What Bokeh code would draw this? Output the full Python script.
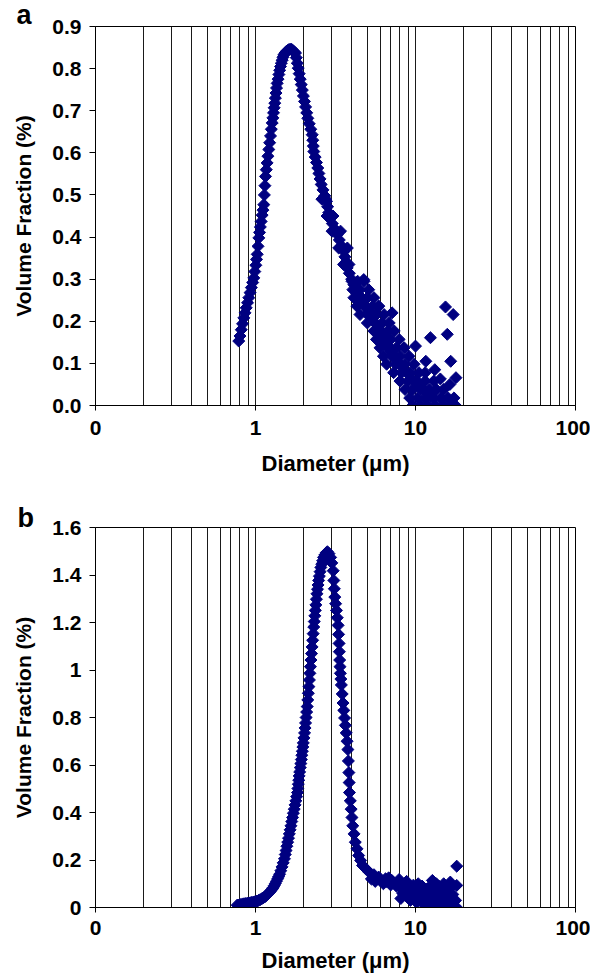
from bokeh.plotting import figure
from bokeh.models import FixedTicker, NumeralTickFormatter, Range1d, Title
from bokeh.layouts import column
from bokeh.embed import file_html
from bokeh.resources import INLINE

FONT = "Liberation Sans"
NAVY = "#000080"

# ---------------- data: panel a ----------------
a_curve_x = [0.786, 0.80, 0.815, 0.83, 0.845, 0.86, 0.875, 0.892, 0.908, 0.925, 0.942, 0.96, 0.976,
             0.99, 1.005, 1.015, 1.025, 1.037, 1.049, 1.06, 1.072, 1.085, 1.10, 1.113, 1.127, 1.136,
             1.145, 1.155, 1.168, 1.182, 1.196, 1.211, 1.226, 1.241, 1.256, 1.272, 1.284, 1.296, 1.308,
             1.320, 1.331, 1.343, 1.354, 1.366, 1.383, 1.40, 1.416, 1.433, 1.45, 1.468, 1.485, 1.503,
             1.53, 1.56, 1.588, 1.615, 1.645, 1.679,
             1.71, 1.745, 1.778, 1.80, 1.825, 1.849, 1.875, 1.903, 1.931, 1.962, 1.993, 2.024, 2.056,
             2.09, 2.123, 2.168, 2.215, 2.262, 2.28, 2.297, 2.314, 2.36, 2.405, 2.451, 2.49, 2.532,
             2.574, 2.64, 2.71, 2.779, 2.824, 2.868, 2.914, 3.02, 3.13, 3.24, 3.34, 3.45, 3.564, 3.62,
             3.68, 3.742, 3.86, 3.99, 4.116, 4.29, 4.46, 4.644, 4.87, 5.11, 5.363, 5.63, 5.90, 6.193,
             6.44, 6.70, 6.98, 7.38, 7.80, 8.26, 8.85, 9.5, 10.25, 11.0, 11.7, 12.41]
a_curve_y = [0.153, 0.165, 0.180, 0.194, 0.208, 0.220, 0.232, 0.244, 0.256, 0.268, 0.280, 0.292, 0.303,
             0.318, 0.333, 0.347, 0.359, 0.378, 0.398, 0.411, 0.424, 0.437, 0.452, 0.464, 0.477, 0.500,
             0.522, 0.544, 0.560, 0.576, 0.592, 0.608, 0.624, 0.640, 0.656, 0.671, 0.683, 0.695, 0.707,
             0.718, 0.730, 0.742, 0.754, 0.765, 0.775, 0.786, 0.796, 0.805, 0.813, 0.820, 0.827, 0.833,
             0.837, 0.841, 0.843, 0.845, 0.846, 0.846,
             0.843, 0.840, 0.837, 0.826, 0.813, 0.801, 0.788, 0.775, 0.762, 0.749, 0.735, 0.722, 0.709,
             0.695, 0.682, 0.669, 0.656, 0.643, 0.630, 0.616, 0.603, 0.590, 0.577, 0.564, 0.551, 0.538,
             0.525, 0.512, 0.498, 0.485, 0.472, 0.458, 0.445, 0.432, 0.419, 0.406, 0.393, 0.379, 0.366,
             0.353, 0.340, 0.327, 0.314, 0.300, 0.287, 0.274, 0.261, 0.248, 0.235, 0.221, 0.208, 0.195,
             0.182, 0.169, 0.156, 0.142, 0.129, 0.116, 0.103, 0.090, 0.077, 0.064, 0.050, 0.040, 0.031,
             0.023]

# spread of the repeated measurements around the falling tail
a_spread_x = [2.60, 2.75, 2.80, 3.05, 3.01, 3.20, 3.40, 3.31, 3.50, 3.75, 3.55, 3.84,
              4.01, 4.35, 4.77, 4.06, 4.50, 5.10, 4.12, 4.60, 5.00, 5.50, 4.30, 4.80, 5.40, 5.90,
              4.50, 5.00, 5.70, 6.36, 5.00, 5.60, 6.20, 6.85, 5.49, 6.00, 6.70, 7.36,
              5.70, 6.30, 7.00, 7.90, 6.00, 6.70, 7.60, 8.50, 6.30, 7.10, 8.00, 9.10,
              6.60, 7.50, 8.60, 9.80, 7.30, 8.20, 9.30, 10.5, 11.5,
              8.00, 9.00, 10.2, 11.5, 13.0, 8.60, 9.60, 10.8, 12.2, 13.5, 15.0,
              9.20, 10.3, 11.5, 12.9, 14.4, 16.0, 17.4, 9.60, 10.8, 12.0, 13.4, 15.0, 16.6, 17.8,
              4.75, 7.14, 10.0, 12.4, 15.8, 15.4, 17.2, 16.6, 11.6, 17.9, 14.3, 13.2, 16.4]
a_spread_y = [0.490, 0.490, 0.450, 0.450, 0.414, 0.414, 0.414, 0.374, 0.374, 0.374, 0.335, 0.335,
              0.295, 0.295, 0.295, 0.275, 0.275, 0.275, 0.256, 0.256, 0.256, 0.256, 0.236, 0.236,
              0.236, 0.236, 0.216, 0.216, 0.216, 0.216, 0.196, 0.196, 0.196, 0.196, 0.177, 0.177,
              0.177, 0.177, 0.157, 0.157, 0.157, 0.157, 0.137, 0.137, 0.137, 0.137, 0.117, 0.117,
              0.117, 0.117, 0.098, 0.098, 0.098, 0.098, 0.078, 0.078, 0.078, 0.078, 0.078,
              0.058, 0.058, 0.058, 0.058, 0.058, 0.038, 0.038, 0.038, 0.038, 0.038, 0.038,
              0.018, 0.018, 0.018, 0.018, 0.018, 0.018, 0.018, 0.000, 0.000, 0.000, 0.000, 0.000,
              0.000, 0.000,
              0.299, 0.220, 0.141, 0.161, 0.169, 0.234, 0.216, 0.105, 0.105, 0.066, 0.063, 0.085,
              0.050]

# ---------------- data: panel b ----------------
b_curve_x = [0.769, 0.79, 0.81, 0.83, 0.85, 0.87, 0.89, 0.91, 0.93, 0.95, 0.975, 0.996, 1.02, 1.045,
             1.07, 1.095, 1.12, 1.146, 1.17, 1.195, 1.22, 1.245, 1.266, 1.288, 1.31, 1.33, 1.352, 1.375,
             1.395, 1.415, 1.44, 1.465, 1.49, 1.517, 1.535, 1.553, 1.571, 1.589, 1.608, 1.627, 1.646,
             1.665, 1.685, 1.705, 1.725, 1.746, 1.767, 1.787, 1.808, 1.829, 1.84, 1.852, 1.863, 1.874,
             1.889, 1.905, 1.92, 1.935, 1.949, 1.963, 1.977, 1.99, 2.008, 2.026, 2.041, 2.055, 2.072,
             2.088, 2.105, 2.122, 2.139, 2.156, 2.172, 2.188, 2.204, 2.222, 2.24, 2.258, 2.276, 2.294,
             2.312, 2.33, 2.348, 2.365, 2.384, 2.403, 2.422, 2.441, 2.46, 2.48, 2.507, 2.534, 2.561,
             2.594, 2.627, 2.661, 2.71, 2.76, 2.815,
             2.88, 2.949, 3.0, 3.06, 3.087, 3.11, 3.131, 3.168, 3.206, 3.245, 3.284, 3.307, 3.33, 3.344,
             3.358, 3.375, 3.392, 3.416, 3.44, 3.482, 3.524, 3.563, 3.603, 3.645, 3.69, 3.735, 3.779,
             3.806, 3.833, 3.85, 3.866, 3.913, 3.96, 4.007, 4.055, 4.13, 4.205, 4.31, 4.41, 4.54, 4.666,
             4.9, 5.12, 5.5, 5.89, 6.5, 7.11, 7.8, 8.57, 9.7, 10.83, 11.9, 13.06, 14.4, 15.74]
b_curve_y = [0.010, 0.011, 0.013, 0.015, 0.016, 0.017, 0.018, 0.019, 0.020, 0.022, 0.023, 0.025, 0.027,
             0.030, 0.033, 0.037, 0.041, 0.045, 0.051, 0.057, 0.063, 0.070, 0.076, 0.083, 0.092, 0.101,
             0.111, 0.121, 0.130, 0.140, 0.155, 0.171, 0.188, 0.205, 0.223, 0.240, 0.258, 0.275, 0.292,
             0.310, 0.327, 0.344, 0.362, 0.379, 0.397, 0.414, 0.432, 0.449, 0.467, 0.484, 0.501, 0.519,
             0.536, 0.554, 0.571, 0.589, 0.606, 0.623, 0.641, 0.658, 0.676, 0.693, 0.714, 0.735, 0.756,
             0.777, 0.800, 0.823, 0.846, 0.874, 0.902, 0.930, 0.958, 0.986, 1.014, 1.042, 1.069, 1.097,
             1.125, 1.153, 1.181, 1.204, 1.228, 1.251, 1.274, 1.298, 1.321, 1.340, 1.358, 1.377, 1.395,
             1.414, 1.432, 1.446, 1.460, 1.474, 1.484, 1.493, 1.498,
             1.490, 1.474, 1.451, 1.418, 1.377, 1.342, 1.307, 1.279, 1.251, 1.220, 1.188, 1.150, 1.112,
             1.077, 1.042, 1.014, 0.986, 0.962, 0.937, 0.899, 0.861, 0.830, 0.798, 0.767, 0.735, 0.700,
             0.665, 0.617, 0.568, 0.526, 0.484, 0.449, 0.414, 0.379, 0.344, 0.310, 0.275, 0.247, 0.219,
             0.198, 0.177, 0.163, 0.149, 0.138, 0.128, 0.121, 0.114, 0.107, 0.100, 0.094, 0.087, 0.080,
             0.072, 0.066, 0.059]

b_tail_x = [5.3, 5.6, 6.0, 6.3, 6.6, 7.0, 7.3, 7.6, 8.0, 8.1, 8.3, 8.6, 8.9, 9.2, 9.5, 9.8, 10.1, 10.5,
            10.8, 11.2, 11.6, 12.0, 12.4, 12.8, 13.2, 13.6, 14.0, 14.3, 14.7, 15.1, 15.5, 15.9, 16.3,
            16.7, 17.1, 17.5, 18.1, 18.1, 18.1, 17.8, 16.0, 14.5, 13.0, 11.5, 10.2, 9.3, 12.75, 13.5,
            15.0, 16.5, 6.8, 7.9, 8.8, 9.0, 10.4, 11.0]
b_tail_y = [0.120, 0.110, 0.115, 0.100, 0.110, 0.095, 0.105, 0.090, 0.085, 0.038, 0.060, 0.075, 0.050,
            0.080, 0.065, 0.045, 0.075, 0.060, 0.030, 0.070, 0.050, 0.020, 0.085, 0.040, 0.060, 0.010,
            0.090, 0.035, 0.050, 0.005, 0.070, 0.030, 0.080, 0.015, 0.055, 0.000, 0.093, 0.174, 0.000,
            0.030, 0.000, 0.000, 0.005, 0.010, 0.020, 0.030, 0.114, 0.100, 0.100, 0.107, 0.125, 0.118,
            0.110, 0.095, 0.100, 0.090]

# ---------------- ticks ----------------
x_major_ticks = [0.1, 1, 10, 100]
x_grid_ticks = [0.2, 0.3, 0.4, 0.5, 0.6, 0.7, 0.8, 0.9, 1, 2, 3, 4, 5, 6, 7, 8, 9, 10,
                20, 30, 40, 50, 60, 70, 80, 90, 100]
a_y_ticks = [0.0, 0.1, 0.2, 0.3, 0.4, 0.5, 0.6, 0.7, 0.8, 0.9]
b_y_ticks = [0.0, 0.2, 0.4, 0.6, 0.8, 1.0, 1.2, 1.4, 1.6]


def make_panel(width, height, left, right, top, bottom, ymax, yticks, yfmt, letter,
               letter_offset, letter_standoff, series, x_std, x_lab_std):
    p = figure(width=width, height=height, x_axis_type="log",
               x_range=Range1d(0.1, 100), y_range=Range1d(0, ymax),
               output_backend="svg", toolbar_location=None,
               min_border_left=left, min_border_right=right,
               min_border_top=top, min_border_bottom=bottom)
    p.background_fill_color = "white"
    p.border_fill_color = "white"
    p.outline_line_color = "black"
    p.outline_line_width = 1

    p.xgrid.ticker = FixedTicker(ticks=x_grid_ticks)
    p.xgrid.grid_line_color = "#1a1a1a"
    p.xgrid.grid_line_width = 1
    p.ygrid.grid_line_color = None

    p.xaxis.ticker = FixedTicker(ticks=x_major_ticks)
    p.xaxis.formatter = NumeralTickFormatter(format="0")
    p.yaxis.ticker = FixedTicker(ticks=yticks)
    p.yaxis.formatter = NumeralTickFormatter(format=yfmt)

    for ax in (p.xaxis[0], p.yaxis[0]):
        ax.axis_line_color = "black"
        ax.axis_line_width = 1
        ax.major_tick_line_color = "black"
        ax.major_tick_in = 0
        ax.minor_tick_line_color = None
        ax.major_label_text_font = FONT
        ax.major_label_text_font_style = "bold"
        ax.major_label_text_font_size = "21px"
        ax.major_label_text_color = "black"
        ax.axis_label_text_font = FONT
        ax.axis_label_text_font_style = "bold"
        ax.axis_label_text_color = "black"
    p.xaxis.axis_label_text_font_size = "22px"
    p.yaxis.axis_label_text_font_size = "21px"
    p.xaxis.major_tick_out = 5
    p.yaxis.major_tick_out = 6
    p.xaxis.major_label_standoff = x_std
    p.yaxis.major_label_standoff = 8
    p.xaxis.axis_label = "Diameter (μm)"
    p.yaxis.axis_label = "Volume Fraction (%)"
    p.xaxis.axis_label_standoff = x_lab_std
    p.yaxis.axis_label_standoff = 14

    for xs, ys in series:
        p.scatter(xs, ys, marker="square", size=8.5, angle=0.785398,
                  fill_color=NAVY, line_color=NAVY, line_width=1)

    t = Title(text=letter, align="left", offset=letter_offset, standoff=letter_standoff,
              padding=5,
              text_font=FONT, text_font_style="bold", text_font_size="27px",
              text_color="black")
    p.add_layout(t, "above")
    return p


pa = make_panel(590, 486, 95, 15, 25, 81, 0.9, a_y_ticks, "0.0", "a", -84, -16,
                [(a_curve_x, a_curve_y), (a_spread_x, a_spread_y)], 10, 13)
pb = make_panel(590, 489, 93, 5, 41, 66, 1.6, b_y_ticks, "0.[0]", "b", -83, -21,
                [(b_curve_x, b_curve_y), (b_tail_x, b_tail_y)], 8, 10)

layout = column(pa, pb, spacing=0)
open("out.html", "w").write(file_html(layout, INLINE))
